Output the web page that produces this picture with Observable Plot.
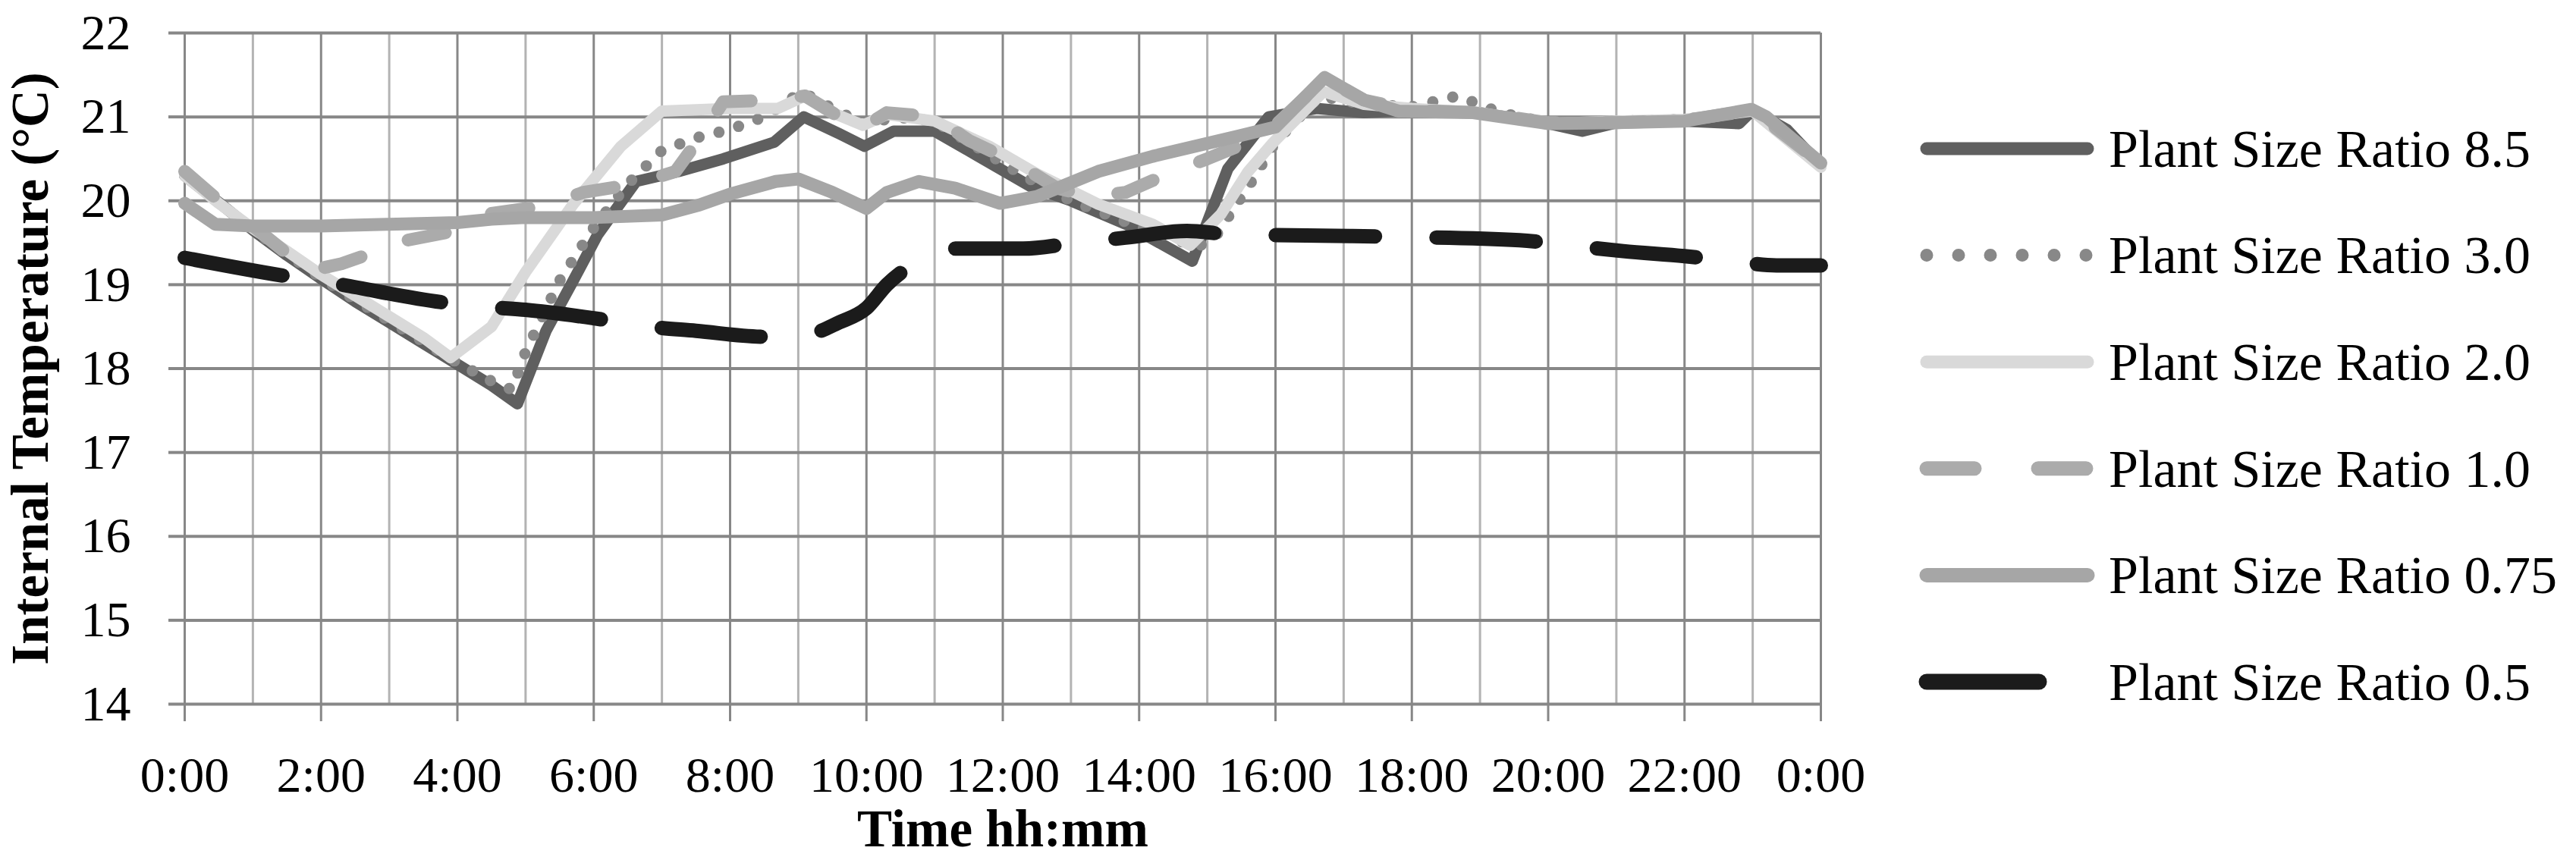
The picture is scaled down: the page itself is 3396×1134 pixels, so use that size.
<!DOCTYPE html>
<html><head><meta charset="utf-8">
<script src="https://cdn.jsdelivr.net/npm/d3@7"></script>
<script src="https://cdn.jsdelivr.net/npm/@observablehq/plot@0.6"></script>
<style>
html,body{margin:0;padding:0;background:#fff;}
#wrap{position:relative;width:3396px;height:1134px;overflow:hidden;background:#fff;}
#legend{position:absolute;left:0;top:0;pointer-events:none;}
</style></head><body><div id="wrap"></div>
<script>
// ---------- DATA ----------
const seriesNames = ["Plant Size Ratio 8.5","Plant Size Ratio 3.0","Plant Size Ratio 2.0","Plant Size Ratio 1.0","Plant Size Ratio 0.75","Plant Size Ratio 0.5"];

const t85 = [0,0.5,1,1.5,2,2.5,3,3.5,4,4.5,4.88,5.3,5.7,6.06,6.62,7.25,7.9,8.65,9.08,9.6,9.97,10.4,11.0,11.6,12.41,13.0,13.81,14.78,15.3,15.9,16.6,17.3,18.0,19.0,20.0,20.5,21.0,22.0,22.8,23.0,23.5,24];
const v85 = [20.3,19.98,19.65,19.35,19.07,18.8,18.55,18.3,18.05,17.8,17.58,18.45,19.05,19.6,20.23,20.35,20.5,20.7,21.0,20.8,20.65,20.83,20.83,20.55,20.17,20.0,19.72,19.28,20.38,21.0,21.1,21.05,21.08,21.05,20.92,20.83,20.93,20.95,20.92,21.08,20.85,20.42];

const t30 = [0,0.5,1,1.5,2,2.5,3,3.5,4,4.5,4.8,5.0,5.5,6.0,6.5,7.0,7.5,8.0,8.5,9.05,9.5,10.0,10.4,11.0,11.6,12.3,13.0,13.8,14.85,15.1,15.65,16.0,16.65,17.3,18.0,18.67,19.3,20.0,21.0,22.0,23.0,24];
const v30 = [20.3,19.98,19.65,19.37,19.08,18.82,18.57,18.32,18.07,17.85,17.75,18.2,19.05,19.68,20.2,20.6,20.75,20.85,21.0,21.3,21.1,20.9,21.0,20.95,20.65,20.3,20.0,19.75,19.45,19.55,20.23,20.7,21.25,21.15,21.12,21.25,21.05,20.93,20.95,20.97,21.08,20.45];

const t20 = [0,0.5,1,1.5,2,2.5,3,3.5,3.9,4.5,5.0,5.7,6.4,7.0,8.0,8.7,9.1,9.5,9.95,10.3,11.0,11.8,12.5,13.4,14.2,14.75,15.2,15.6,15.95,16.7,17.3,18.0,19.0,20.0,21.0,22.0,23.0,24];
const v20 = [20.3,19.97,19.67,19.4,19.12,18.87,18.62,18.37,18.13,18.5,19.15,19.96,20.65,21.07,21.1,21.1,21.25,21.05,20.9,21.03,20.95,20.65,20.32,19.96,19.72,19.47,19.84,20.35,20.68,21.3,21.15,21.1,21.05,20.92,20.95,20.97,21.07,20.4];

const t10 = [0,0.5,1,1.44,1.8,2.3,2.65,3.2,3.9,4.5,5.2,5.85,6.6,7.2,7.6,7.9,8.6,9.1,9.5,9.9,10.3,11.0,11.5,12.2,12.8,13.3,13.8,14.5,15.0,15.45,16.0,16.72,17.3,18.0,19.0,20.0,21.0,22.0,23.0,24];
const v10 = [20.35,20.0,19.7,19.41,19.16,19.25,19.35,19.52,19.63,19.85,19.93,20.1,20.2,20.35,20.8,21.18,21.2,21.25,21.05,20.85,21.05,21.0,20.72,20.45,20.15,20.05,20.1,20.35,20.5,20.65,20.9,21.45,21.2,21.08,21.05,20.93,20.93,20.96,21.08,20.45];

const t75 = [0,0.45,1,2,3,4,4.5,5.0,6.0,7.0,7.55,8.0,8.67,9.0,9.5,10.0,10.3,10.77,11.3,11.96,12.5,13.4,14.2,15.45,16.0,16.72,17.3,17.8,18.9,20.0,21.0,22.0,22.98,23.2,24];
const v75 = [19.97,19.72,19.7,19.7,19.72,19.74,19.78,19.8,19.8,19.83,19.95,20.08,20.23,20.26,20.1,19.91,20.1,20.23,20.15,19.97,20.05,20.35,20.53,20.77,20.88,21.47,21.2,21.07,21.05,20.92,20.93,20.95,21.09,21.0,20.45];

const t05 = [0,1.5,2.15,3.78,4.5,5.0,6.0,6.8,7.5,8.5,9.1,9.6,10.0,10.3,10.7,11.2,12.3,13.0,13.8,14.7,15.35,17.13,17.84,19.58,20.3,21.1,22.0,22.7,23.35,24];
const v05 = [19.32,19.1,19.02,18.79,18.73,18.7,18.6,18.5,18.45,18.38,18.4,18.55,18.72,19.0,19.25,19.43,19.43,19.49,19.56,19.64,19.6,19.58,19.57,19.53,19.47,19.4,19.34,19.28,19.23,19.23];

const tempTicks = [14,15,16,17,18,19,20,21,22];
const hourGrid = d3.range(0, 25, 1);
const hourLabels = [0,2,4,6,8,10,12,14,16,18,20,22,24];
const xTitle = "Time hh:mm";
const yTitle = "Internal Temperature (°C)";

// ---------- STYLES ----------
const times = [t85,t30,t20,t10,t75,t05];
const values = [v85,v30,v20,v10,v75,v05];
const styles = [
  {color:"#5f5f5f", width:15, dash:null, curve:"linear", legendDash:null, legendEnd:2752},
  {color:"#888888", width:15, dash:"0,27", curve:"linear", legendDash:"0,42", legendEnd:2752},
  {color:"#d9d9d9", width:15, dash:null, curve:"linear", legendDash:null, legendEnd:2752},
  {color:"#ababab", width:17, dash:"50,66", curve:"linear", legendDash:"63,84", legendEnd:2752},
  {color:"#a6a6a6", width:17, dash:null, curve:"linear", legendDash:null, legendEnd:2752},
  {color:"#1b1b1b", width:19, dash:"131,81", curve:"monotone-x", legendDash:null, legendEnd:2688}
];

const rows = [];
seriesNames.forEach((name, k) => times[k].forEach((t, i) => rows.push({name, t, v: values[k][i]})));

const W = 3396, H = 1134;
const font = "'Liberation Serif', 'Times New Roman', serif";

const lineMarks = seriesNames.map((name, k) => Plot.line(rows.filter(r => r.name === name), {
  x: "t", y: "v", stroke: styles[k].color, strokeWidth: styles[k].width,
  strokeDasharray: styles[k].dash || undefined, strokeLinecap: "round", strokeLinejoin: "round",
  curve: styles[k].curve
}));

const chart = Plot.plot({
  width: W, height: H,
  marginLeft: 243, marginRight: 996, marginTop: 43, marginBottom: 206,
  x: {domain: [0, 24]},
  y: {domain: [14, 22]},
  style: {fontFamily: font, fontSize: "66px", background: "#fff", color: "#000", overflow: "visible"},
  marks: [
    Plot.ruleX(hourGrid.filter(h => h % 2 === 1), {x: d => d, stroke: "#b3b3b3", strokeWidth: 3}),
    Plot.ruleX(hourGrid.filter(h => h % 2 === 0), {x: d => d, stroke: "#878787", strokeWidth: 3}),
    Plot.ruleY(tempTicks, {y: d => d, stroke: "#878787", strokeWidth: 4}),
    Plot.axisY({ticks: tempTicks, tickSize: 21, tickPadding: 50, stroke: "#878787", strokeWidth: 4,
      fontSize: 66, fill: "#000", label: null, tickFormat: d => String(d)}),
    Plot.axisX({ticks: hourLabels, tickSize: 23, tickPadding: 46, stroke: "#878787", strokeWidth: 3,
      fontSize: 66, fill: "#000", label: null, tickFormat: h => `${h % 24}:00`}),
    ...lineMarks,
    Plot.text([xTitle], {text: d => d, frameAnchor: "bottom", dy: 165, lineAnchor: "middle", textAnchor: "middle",
      fontWeight: "bold", fontSize: 69, fill: "#000"}),
    Plot.text([yTitle], {text: d => d, frameAnchor: "left", dx: -203, rotate: -90, lineAnchor: "middle", textAnchor: "middle",
      fontWeight: "bold", fontSize: 69, fill: "#000"})
  ]
});
const wrap = document.getElementById("wrap");
wrap.appendChild(chart);

// ---------- LEGEND ----------
const leg = d3.select(wrap).append("svg").attr("id", "legend").attr("width", W).attr("height", H);
const legY0 = 196, legStep = 140.6, legX1 = 2540, legTextX = 2780;
seriesNames.forEach((name, k) => {
  const y = legY0 + k * legStep, s = styles[k];
  const ln = leg.append("line").attr("x1", legX1).attr("x2", s.legendEnd).attr("y1", y).attr("y2", y)
    .attr("stroke", s.color).attr("stroke-width", s.width + 2).attr("stroke-linecap", "round");
  if (s.legendDash) ln.attr("stroke-dasharray", s.legendDash);
  leg.append("text").attr("x", legTextX).attr("y", y).attr("dy", "0.34em")
    .attr("font-family", font).attr("font-size", 70).attr("fill", "#000").text(name);
});
</script></body></html>
